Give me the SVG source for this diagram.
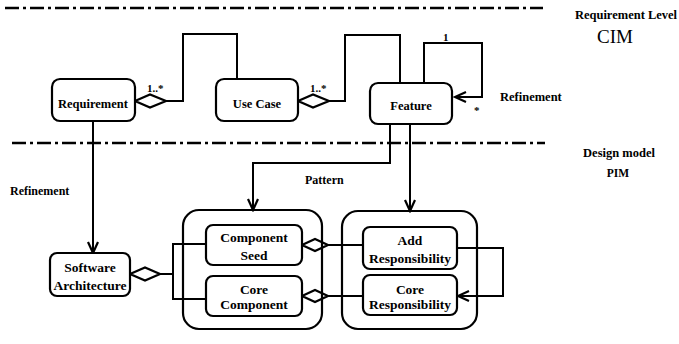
<svg xmlns="http://www.w3.org/2000/svg" width="679" height="344" viewBox="0 0 679 344">
<style>
  .box { fill: #fff; stroke: #000; stroke-width: 2.2; }
  .cont { fill: none; stroke: #000; stroke-width: 2.2; }
  .conn { fill: none; stroke: #000; stroke-width: 2; }
  .dia { fill: #fff; stroke: #000; stroke-width: 2.2; stroke-linejoin: miter; }
  .sep { stroke: #000; stroke-width: 2.5; stroke-dasharray: 14 4 3 4; }
  text { font-family: "Liberation Serif", "Times New Roman", serif; font-weight: bold; fill: #000; }
  .t1 { font-size: 12.5px; text-anchor: middle; }
  .t2 { font-size: 13.5px; text-anchor: middle; }
  .lab { font-size: 12px; }
  .mult { font-size: 11px; }
</style>
<defs>
  <marker id="arr" markerUnits="userSpaceOnUse" markerWidth="16" markerHeight="14" viewBox="-14 -7 16 14" refX="0" refY="0" orient="auto">
    <path d="M-11,-5 L0,0 L-11,5" fill="none" stroke="#000" stroke-width="2.2"/>
  </marker>
</defs>

<g id="separators">
  <line class="sep" x1="5" y1="8" x2="543" y2="8"/>
  <line class="sep" x1="12" y1="143" x2="545" y2="143"/>
</g>

<g id="connectors">
  <path class="conn" d="M166 101 H183 V34 H237 V79"/>
  <path class="conn" d="M329 101 H345 V35 H400 V83"/>
  <path class="conn" d="M424 83 V43 H482 V97 H455" marker-end="url(#arr)"/>
  <path class="conn" d="M93 121 V253" marker-end="url(#arr)"/>
  <path class="conn" d="M390 124 V163 H253 V210" marker-end="url(#arr)"/>
  <path class="conn" d="M410 124 V211" marker-end="url(#arr)"/>
  <path class="conn" d="M160 274 H173"/>
  <path class="conn" d="M206 244 H173 V299 H206"/>
  <path class="conn" d="M328 245 H363"/>
  <path class="conn" d="M328 296 H363"/>
  <path class="conn" d="M457 248 H503 V296 H458" marker-end="url(#arr)"/>
  <polygon class="dia" points="135,101 150,94.5 166,101 150,107.5"/>
  <polygon class="dia" points="298,101 313,94.5 329,101 313,107.5"/>
  <polygon class="dia" points="130,274 145,267.5 160,274 145,280.5"/>
  <polygon class="dia" points="302,245 315,239 328,245 315,251"/>
  <polygon class="dia" points="302,296 315,290 328,296 315,302"/>
  <text class="mult" x="147" y="92">1..*</text>
  <text class="mult" x="310" y="92">1..*</text>
  <text class="mult" x="443" y="41">1</text>
  <text class="mult" x="474" y="114">*</text>
  <text class="lab" x="305" y="184">Pattern</text>
</g>

<g id="requirement">
  <rect class="box" x="52" y="79" width="83" height="42" rx="8"/>
  <text class="t1" x="93" y="108">Requirement</text>
</g>
<g id="usecase">
  <rect class="box" x="216" y="79" width="82" height="42" rx="8"/>
  <text class="t1" x="257" y="108">Use Case</text>
</g>
<g id="feature">
  <rect class="box" x="370" y="83" width="82" height="41" rx="8"/>
  <text class="t1" x="411" y="110">Feature</text>
</g>
<g id="software-architecture">
  <rect class="box" x="50" y="253" width="80" height="43" rx="7"/>
  <text class="t2" x="90" y="272">Software</text>
  <text class="t2" x="90" y="290">Architecture</text>
</g>
<g id="component-container">
  <rect class="cont" x="183" y="210" width="139" height="119" rx="16"/>
</g>
<g id="component-seed">
  <rect class="box" x="206" y="225" width="96" height="40" rx="7"/>
  <text class="t2" x="254" y="242">Component</text>
  <text class="t2" x="254" y="260">Seed</text>
</g>
<g id="core-component">
  <rect class="box" x="206" y="276" width="96" height="40" rx="7"/>
  <text class="t2" x="254" y="294">Core</text>
  <text class="t2" x="254" y="309">Component</text>
</g>
<g id="responsibility-container">
  <rect class="cont" x="342" y="211" width="135" height="118" rx="16"/>
</g>
<g id="add-responsibility">
  <rect class="box" x="363" y="227" width="94" height="42" rx="7"/>
  <text class="t2" x="410" y="245">Add</text>
  <text class="t2" x="410" y="263">Responsibility</text>
</g>
<g id="core-responsibility">
  <rect class="box" x="363" y="275" width="94" height="40" rx="7"/>
  <text class="t2" x="410" y="294">Core</text>
  <text class="t2" x="410" y="309">Responsibility</text>
</g>

<g id="labels">
  <text class="lab" x="500" y="101" style="font-size:12.5px">Refinement</text>
  <text class="lab" x="10" y="195">Refinement</text>
  <text x="626" y="19" style="font-size:12.5px;text-anchor:middle">Requirement Level</text>
  <text x="615" y="43" style="font-size:19px;font-weight:normal;text-anchor:middle">CIM</text>
  <text x="619" y="157" style="font-size:12.5px;text-anchor:middle">Design model</text>
  <text x="618" y="177" style="font-size:11.5px;text-anchor:middle">PIM</text>
</g>
</svg>
